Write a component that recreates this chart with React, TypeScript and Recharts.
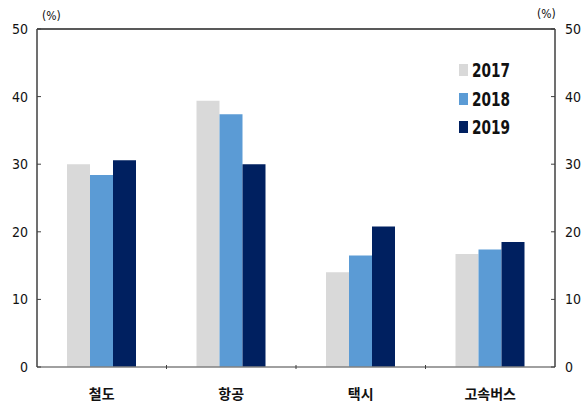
import React from "react";
import { Bar, BarChart, ReferenceLine, XAxis, YAxis } from "recharts";

const categories = ["철도", "항공", "택시", "고속버스"];
const series2017 = [30.0, 39.4, 14.0, 16.7];
const series2018 = [28.4, 37.4, 16.5, 17.4];
const series2019 = [30.6, 30.0, 20.8, 18.5];
const yTicks = [0, 10, 20, 30, 40, 50];

const SERIES = [
  { key: "y2017", name: "2017", color: "#D9D9D9", axis: "left" },
  { key: "y2018", name: "2018", color: "#5B9BD5", axis: "left" },
  { key: "y2019", name: "2019", color: "#002060", axis: "right" },
];

const data = categories.map((name, i) => ({
  name,
  y2017: series2017[i],
  y2018: series2018[i],
  y2019: series2019[i],
}));

const W = 585;
const H = 405;
const LEFT = 37;
const RIGHT = 30;
const BAND_HALF = (W - LEFT - RIGHT) / categories.length / 2;
const NUM_FONT = "'DejaVu Sans', sans-serif";
const KR_FONT = "'Noto Sans CJK KR', sans-serif";

function LeftTick({ x, y, payload }: any) {
  return (
    <g>
      <line x1={x} x2={x + 4} y1={y} y2={y} stroke="#404040" />
      <text x={x - 9} y={y} dy={5} textAnchor="end" fontSize={14} fontFamily={NUM_FONT} fontStretch="condensed" fill="#111">
        {payload.value}
      </text>
    </g>
  );
}

function RightTick({ x, y, payload }: any) {
  return (
    <g>
      <line x1={x - 4} x2={x} y1={y} y2={y} stroke="#404040" />
      <text x={x + 10} y={y} dy={5} textAnchor="start" fontSize={14} fontFamily={NUM_FONT} fontStretch="condensed" fill="#111">
        {payload.value}
      </text>
    </g>
  );
}

function CategoryTick({ x, y, payload, index }: any) {
  return (
    <g>
      {index < categories.length - 1 && (
        <line x1={x + BAND_HALF} x2={x + BAND_HALF} y1={y} y2={y - 4} stroke="#404040" />
      )}
      <text x={x} y={y + 30} textAnchor="middle" fontSize={14} fontWeight={700} fontFamily={KR_FONT} fill="#111">
        {payload.value}
      </text>
    </g>
  );
}

function LegendBox() {
  return (
    <div style={{ position: "absolute", left: 459, top: 56, fontFamily: NUM_FONT, fontStretch: "condensed" }}>
      {SERIES.map((s) => (
        <div key={s.key} style={{ display: "flex", alignItems: "center", height: 28.5 }}>
          <span style={{ width: 9, height: 12, background: s.color, marginRight: 4 }} />
          <span
            style={{
              fontSize: 19,
              fontWeight: 700,
              color: "#111",
              display: "inline-block",
              transform: "scaleX(0.8)",
              transformOrigin: "left center",
            }}
          >
            {s.name}
          </span>
        </div>
      ))}
    </div>
  );
}

export default function App() {
  return (
    <div style={{ position: "absolute", left: 0, top: 0, width: W, height: H, background: "#fff" }}>
      <BarChart
        width={W}
        height={H}
        data={data}
        margin={{ top: 29, right: 0, bottom: 0, left: 0 }}
        barCategoryGap={30}
        barGap={0}
      >
        <XAxis
          dataKey="name"
          height={38}
          tickLine={false}
          tickSize={0}
          axisLine={{ stroke: "#808080", strokeWidth: 1.5 }}
          tick={<CategoryTick />}
          interval={0}
        />
        <YAxis
          yAxisId="left"
          orientation="left"
          width={LEFT}
          domain={[0, 50]}
          ticks={yTicks}
          tickLine={false}
          tickSize={0}
          tickMargin={0}
          axisLine={{ stroke: "#404040", strokeWidth: 1.5 }}
          tick={<LeftTick />}
        />
        <YAxis
          yAxisId="right"
          orientation="right"
          width={RIGHT}
          domain={[0, 50]}
          ticks={yTicks}
          tickLine={false}
          tickSize={0}
          tickMargin={0}
          axisLine={{ stroke: "#404040", strokeWidth: 1.5 }}
          tick={<RightTick />}
        />
        <ReferenceLine yAxisId="left" y={50} stroke="#222" strokeWidth={1.5} />
        {SERIES.map((s) => (
          <Bar key={s.key} yAxisId={s.axis} dataKey={s.key} name={s.name} fill={s.color} isAnimationActive={false} />
        ))}
      </BarChart>
      <LegendBox />
      <div style={{ position: "absolute", left: 42, top: 9, fontSize: 12, fontFamily: NUM_FONT, fontStretch: "condensed", color: "#111" }}>(%)</div>
      <div style={{ position: "absolute", left: 537, top: 7, fontSize: 12, fontFamily: NUM_FONT, fontStretch: "condensed", color: "#111" }}>(%)</div>
    </div>
  );
}
